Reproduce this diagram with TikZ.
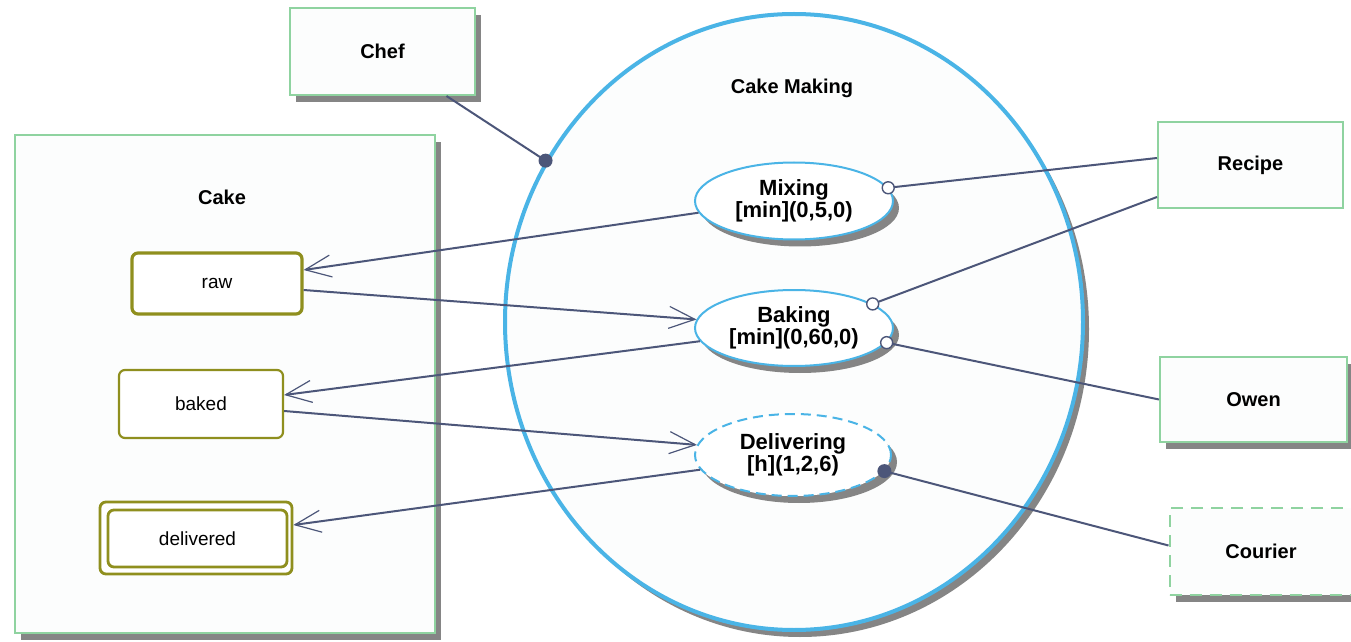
\documentclass[tikz,border=0pt]{standalone}
\usepackage{fontspec}
\setmainfont{Liberation Sans}
\usetikzlibrary{shapes.geometric,shadows,arrows.meta}
\definecolor{boxgreen}{HTML}{8FD3A0}
\definecolor{boxfill}{HTML}{FCFDFD}
\definecolor{shadowgray}{HTML}{858585}
\definecolor{ellblue}{HTML}{4AB4E6}
\definecolor{olive}{HTML}{8F8F1E}
\definecolor{linkcol}{HTML}{4C5679}
\begin{document}
\begin{tikzpicture}[x=0.5pt,y=-0.5pt,
  shad/.style={drop shadow={shadow xshift=3pt,shadow yshift=-3.5pt,fill=shadowgray,opacity=1}},
  actor/.style={rectangle,draw=boxgreen,line width=1pt,fill=boxfill,inner sep=0pt,font=\bfseries\fontsize{10}{12}\selectfont},
  statebox/.style={rectangle,rounded corners=3pt,draw=olive,fill=white,inner sep=0pt,font=\fontsize{9.5}{11}\selectfont},
  proc/.style={ellipse,draw=ellblue,line width=1pt,fill=white,inner sep=0pt,align=center,font=\bfseries\fontsize{11}{9.5}\selectfont,shad},
  link/.style={draw=linkcol,line width=1pt},
  flow/.style={draw=linkcol,line width=1pt,-{Straight Barb[length=13pt,width=11pt,line width=0.6pt]}},
  hollowdot/.style={circle,draw=linkcol,fill=white,line width=0.7pt,minimum size=6pt,inner sep=0pt},
  filldot/.style={circle,fill=linkcol,minimum size=7pt,inner sep=0pt},
  lbl/.style={font=\bfseries\fontsize{10}{12}\selectfont}
]
\useasboundingbox (0,0) rectangle (1351,642);
\fill[white] (0,0) rectangle (1351,642);

% actors
\node[actor,shad,minimum width=92.5pt,minimum height=43.5pt] (chef) at (382.5,51.5) {Chef};
\node[actor,shad,minimum width=210pt,minimum height=249pt] (cake) at (225,384) {};
\node[lbl] (cakelbl) at (222,197) {Cake};
\node[actor,minimum width=92.5pt,minimum height=43pt] (recipe) at (1250.5,165) {Recipe};
\node[actor,shad,minimum width=93.5pt,minimum height=42.5pt] (owen) at (1253.5,399.5) {Owen};
\node[actor,dashed,dash pattern=on 6pt off 4pt,shad,minimum width=91.5pt,minimum height=43.5pt] (courier) at (1261,551.5) {Courier};

% states
\node[statebox,line width=1.6pt,minimum width=85pt,minimum height=30.5pt] (raw) at (217,283.5) {raw};
\node[statebox,line width=1.1pt,minimum width=82pt,minimum height=34pt] (baked) at (201,404) {baked};
\node[statebox,line width=1.4pt,minimum width=96pt,minimum height=36pt] (delout) at (196,538) {};
\node[statebox,line width=1.4pt,minimum width=89.5pt,minimum height=28.5pt] (delivered) at (197.5,538.5) {delivered};

% process ellipses
\node[ellipse,draw=ellblue,line width=2pt,fill=boxfill,minimum width=289pt,minimum height=308pt,inner sep=0pt,shad] (making) at (794,322) {};
\node[lbl] (makinglbl) at (792,88) {Cake Making};
\node[proc,minimum width=99pt,minimum height=38.5pt] (mixing) at (794,201) {Mixing\\{}[min](0,5,0)};
\node[proc,minimum width=99pt,minimum height=38pt] (baking) at (794,328) {Baking\\{}[min](0,60,0)};
\node[proc,dashed,dash pattern=on 5pt off 3pt,minimum width=98pt,minimum height=41pt] (delivering) at (793,455) {Delivering\\{}[h](1,2,6)};

% agent / instrument links
\draw[link] ([xshift=32pt]chef.south) -- (making.147) node[filldot] (chefdot) {};
\draw[link] ([yshift=3.5pt]recipe.west) -- (mixing.8) node[hollowdot] (mixdot) {};
\draw[link] ([yshift=-16pt]recipe.west) -- (baking.17) node[hollowdot] (bakdot1) {};
\draw[link] (owen.west) -- (baking.-9) node[hollowdot] (bakdot2) {};
\draw[link] ([yshift=3pt]courier.west) -- (delivering.-10) node[filldot] (deldot) {};

% state flows
\draw[flow] (mixing.187) -- ([yshift=6.75pt]raw.east);
\draw[flow] ([yshift=-3.25pt]raw.east) -- (baking.175);
\draw[flow] (baking.188) -- ([yshift=4.5pt]baked.east);
\draw[flow] ([yshift=-3.5pt]baked.east) -- (delivering.174);
\draw[flow] (delivering.189) -- ([yshift=6.5pt]delout.east);
\end{tikzpicture}
\end{document}
